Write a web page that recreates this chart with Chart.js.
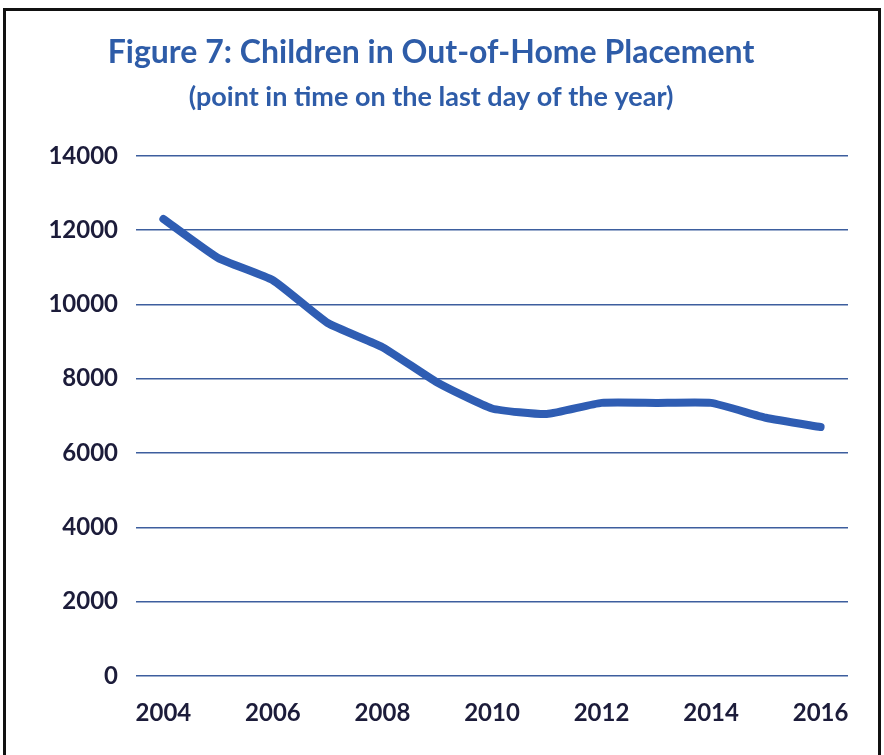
<!DOCTYPE html>
<html>
<head>
<meta charset="utf-8">
<script src="https://cdn.jsdelivr.net/npm/chart.js@4"></script>
<style>
html,body{margin:0;padding:0;background:#fff;overflow:hidden;}
#wrap{position:absolute;left:0;top:0;width:862px;height:755px;}
#frame{position:absolute;left:3px;top:8px;width:872px;height:760px;border:3px solid #111;pointer-events:none;}
</style>
</head>
<body>
<div id="wrap"><canvas id="grafico"></canvas></div>
<div id="frame"></div>
<script>
// years on the x axis (labels only shown every 2 years)
const anos=[2004,2005,2006,2007,2008,2009,2010,2011,2012,2013,2014,2015,2016];
// children in placement
const criancas=[12300,11250,10650,9500,8850,7900,7200,7050,7350,7350,7350,6950,6700];
const ticksY=[0,2000,4000,6000,8000,10000,12000,14000];

const azul="#2f5db3";
const escuro="#1c1c3a";

new Chart(
document.getElementById("grafico"),
{
type:"line",
data:{
labels:anos,
datasets:[{
label:"Children in Out-of-Home Placement",
data:criancas,
borderColor:azul,
borderWidth:8,
borderCapStyle:"round",
borderJoinStyle:"round",
tension:0.15,
pointRadius:0,
fill:false
}]
},
options:{
responsive:true,
maintainAspectRatio:false,
animation:false,
layout:{padding:0},
plugins:{
legend:{display:false},
tooltip:{enabled:false},
title:{
display:true,
text:"Figure 7: Children in Out-of-Home Placement",
color:"#2e5ca8",
font:{family:"Lato",size:32,weight:"bold",lineHeight:1.2},
padding:{top:33,bottom:10}
},
subtitle:{
display:true,
text:"(point in time on the last day of the year)",
color:"#2e5ca8",
font:{family:"Lato",size:27,weight:"bold",lineHeight:1.2},
padding:{top:0,bottom:42}
}
},
scales:{
x:{
offset:true,
grid:{display:false,drawTicks:false},
border:{display:false},
ticks:{
autoSkip:false,
maxRotation:0,
padding:23,
color:escuro,
font:{family:"Lato",size:24,weight:"bold"},
callback:function(v,i){
return anos[i]%2===0?String(anos[i]):"";
}
},
afterFit:function(s){
s.height=79;
s.paddingLeft=0;
s.paddingRight=14;
}
},
y:{
min:0,
max:14000,
afterBuildTicks:function(s){
s.ticks=ticksY.map(v=>({value:v}));
},
grid:{color:"#3d5e9e",lineWidth:1.5,drawTicks:false},
border:{display:false},
ticks:{
padding:18,
color:escuro,
font:{family:"Lato",size:24,weight:"bold"},
callback:function(v){return String(v);}
},
afterFit:function(s){s.width=136;}
}
}
}
}
);
</script>
</body>
</html>
